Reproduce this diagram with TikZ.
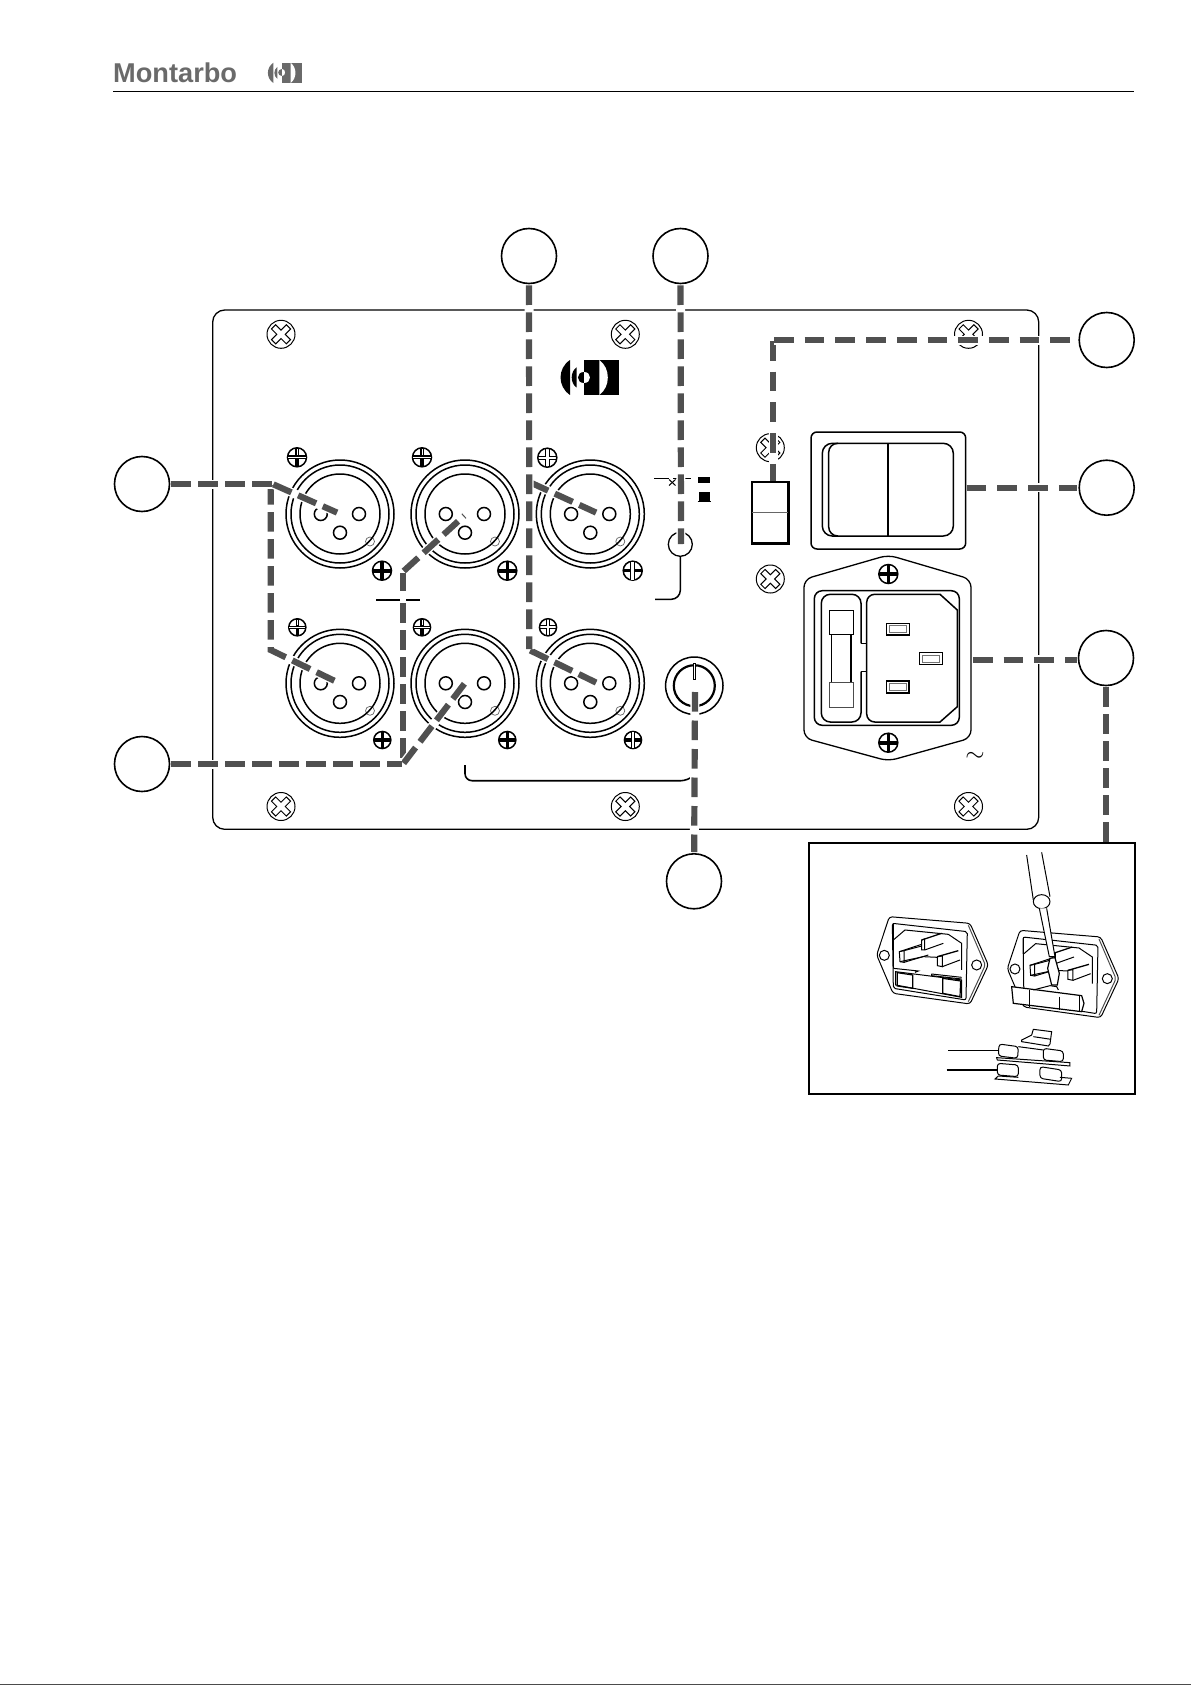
\documentclass[tikz,border=0pt]{standalone}
\usepackage{fontspec}
\setmainfont{Liberation Sans}
\usepackage{amsmath}
\usepackage{tikz}
\definecolor{leadgray}{HTML}{505050}
\definecolor{logogray}{HTML}{6A6A6A}
\begin{document}
\begin{tikzpicture}[
  x = 1pt, y = -1pt,
  ln/.style = {line width=1.5pt,draw=black},
  fine/.style = {line width=1pt,draw=black},
  callout/.style = {draw,circle,line width=1.6pt,inner sep=0pt,minimum size=55pt},
  leader/.style = {line width=6.2pt,draw=leadgray,dash pattern=on 19.7pt off 7.3pt,shorten <=1pt,shorten >=1pt,
    preaction={draw=white,solid,line width=9pt}},
  leader wide/.style = {leader,dash pattern=on 19.7pt off 11pt},
  pics/logoicon/.style = {code={
    \fill[#1] (70,0) rectangle (175,105);
    \fill[#1] (28,0) .. controls (-10,25) and (-10,80) .. (28,105) -- cycle;
    \fill[#1] (48,22) .. controls (28,35) and (28,70) .. (48,83) -- cycle;
    \fill[#1] (70,35) .. controls (46,35) and (46,70) .. (70,70) -- cycle;
    \fill[white] (70,35) .. controls (94,35) and (94,70) .. (70,70) -- cycle;
    \fill[white] (116,0) .. controls (150,25) and (150,80) .. (116,105) -- cycle;
  }},
  pics/xlr/.style = {code={
    \draw[ln] (0,0) circle (54);
    \draw[ln] (0,0) circle (49);
    \draw[line width=.7pt,draw=black!60,fill=white] (30,27.5) circle (4.5);
    \draw[ln] (0,0) circle (40);
    \draw[ln] (-19.2,0) circle (6.5);
    \draw[ln] (19,0) circle (6.5);
    \draw[ln] (0,18.7) circle (6.5);
  }},
  pics/xscrew/.style = {code={
    \draw[fine] (0,0) circle (14);
    \draw[fine,rotate=45] (-3,-10.5) -- (3,-10.5) -- (3,-3) -- (10.5,-3) -- (10.5,3) -- (3,3) -- (3,10.5) -- (-3,10.5) -- (-3,3) -- (-10.5,3) -- (-10.5,-3) -- (-3,-3) -- cycle;
  }},
  pics/solidscrew/.style = {code={
    \draw[ln] (0,0) circle (9.5);
    \fill (-9,-1.8) rectangle (9,1.8);
    \fill (-1.8,-9) rectangle (1.8,9);
  }},
  pics/hollowscrew/.style = {code={
    \draw[ln] (0,0) circle (9.5);
    \draw[fine] (-9,-1.7) -- (-1.7,-1.7) -- (-1.7,-9);
    \draw[fine] (9,-1.7) -- (1.7,-1.7) -- (1.7,-9);
    \draw[fine] (-9,1.7) -- (-1.7,1.7) -- (-1.7,9);
    \draw[fine] (9,1.7) -- (1.7,1.7) -- (1.7,9);
  }},
  pics/halfscrew/.style = {code={
    \draw[ln] (0,0) circle (9.5);
    \fill (-9,-2) rectangle (9,2);
    \fill (-1.8,0) rectangle (1.8,9);
    \fill (-1.8,-9) rectangle (1.8,-2);
    \fill[white] (-9,-.5) rectangle (9,.5);
    \fill[white] (-.5,-8) rectangle (.5,-2.4);
  }},
  pics/mixscrew/.style = {code={
    \draw[ln] (0,0) circle (9.5);
    \fill (-9,-1.7) rectangle (9,1.7);
    \fill[white] (-1.8,-9) rectangle (1.8,9);
    \draw[fine] (-1.8,-9) -- (-1.8,9);
    \draw[fine] (1.8,-9) -- (1.8,9);
  }},
  pics/socketpin/.style = {code={
    \draw[line width=1.5pt] (-11.3,-5.8) rectangle (11.3,5.8);
    \draw[line width=.7pt,draw=black!55] (-8.3,-3.4) rectangle (8.3,3.4);
  }},
  pics/inletview/.style = {code={
    \draw[fine,rounded corners=3] (268,230) -- (510,250) -- (565,375) -- (510,492) -- (279,460) -- (230,345) -- cycle;
    \draw[fine,draw=black!70,rounded corners=2] (505,256) -- (556,375) -- (505,485);
    \draw[fine,rounded corners=2] (277,250) -- (502,275) -- (498,480) -- (280,445) -- cycle;
    \draw[fine] (253,346) circle (15);
    \draw[fine] (530,375) circle (15);
    \draw[fine] (280,300) -- (315,270) -- (445,283) -- (485,310) -- (485,390);
    \draw[fine] (280,250) -- (280,385);
    \draw[fine] (298,335) -- (312,332) -- (312,367) -- (300,365) -- cycle;
    \draw[fine] (298,335) -- (365,313);
    \draw[fine] (312,332) -- (365,318);
    \draw[fine] (312,367) -- (385,345);
    \draw[fine] (300,365) -- (370,350) -- (412,352);
    \draw[fine] (365,300) -- (365,330) -- (374,330) -- (374,297) -- cycle;
    \draw[line width=1.3pt] (365,300) -- (425,280);
    \draw[fine] (374,330) -- (430,310);
    \draw[fine] (412,350) -- (427,348) -- (427,380) -- (412,377) -- cycle;
    \draw[line width=1.3pt] (412,350) -- (475,332);
    \draw[fine] (427,380) -- (480,360);
  }}
  ]
  \useasboundingbox (0,0) rectangle (1191,1685);
  \draw[line width=1pt,draw=black!70] (0,1684.5) -- (1191,1684.5);
  \node[anchor=base west,inner sep=0pt,text=logogray,font=\fontsize{27.2}{28}\selectfont\bfseries] (@brand) at (113,82.3) {Montarbo};
  \pic[scale=.194] at (268,62.7) {logoicon=logogray};
  \draw[line width=1.3pt] (113,91.7) -- (1134,91.7);

  \draw[ln,line width=1.3pt,rounded corners=12] (212.7,310) rectangle (1038.7,829.3);
  \pic[scale=.333] at (560.7,360) {logoicon=black};

  \pic at (281,334.3) {xscrew};
  \pic at (625.3,334.3) {xscrew};
  \pic at (968.5,334.3) {xscrew};
  \pic at (281,806.5) {xscrew};
  \pic at (625.3,806.5) {xscrew};
  \pic at (968.5,806.5) {xscrew};
  \pic at (770.3,447.7) {xscrew};
  \pic at (770.3,579) {xscrew};

  \pic at (340,514) {xlr};
  \pic at (465,514) {xlr};
  \pic at (590.3,514) {xlr};
  \pic at (340,683.3) {xlr};
  \pic at (465,683.3) {xlr};
  \pic at (590.3,683.3) {xlr};

  \pic at (297,457.3) {halfscrew};
  \pic at (422,457.3) {halfscrew};
  \pic at (547.3,457.7) {hollowscrew};
  \pic at (382,570.7) {solidscrew};
  \pic at (507.3,570.7) {solidscrew};
  \pic at (632.7,570.7) {mixscrew};
  \pic[scale=.9] at (297.3,627.3) {halfscrew};
  \pic[scale=.9] at (422,627.3) {halfscrew};
  \pic[scale=.9] at (548,627.3) {hollowscrew};
  \pic[scale=.9] at (382.3,740) {solidscrew};
  \pic[scale=.9] at (507.3,740) {solidscrew};
  \pic[scale=.9] at (633,740) {mixscrew};

  \draw[ln] (376,600) -- (400,600);
  \draw[ln] (406,600) -- (420,600);
  \draw[line width=1.6pt,rounded corners=7] (465,765) -- (465,780.7) -- (688,780.7) -- (693,776);

  \draw[fine] (654,478.7) -- (669,478.7);
  \draw[fine] (669,479.5) -- (675.5,485.5);
  \draw[fine] (675.5,479.5) -- (669,485.5);
  \draw[fine] (673,478.7) -- (691,478.7);
  \fill (697.7,477.3) rectangle (710,482.7);
  \fill (698.5,491.7) rectangle (709.5,501.7);
  \draw[fine] (697.5,501.7) -- (710.5,501.7);
  \node[draw,circle,line width=1.3pt,inner sep=0pt,minimum size=24pt] (@trim) at (680.3,544.3) {};
  \coordinate (@trimend) at (655,599.3);
  \draw[ln,rounded corners=9] (@trim.south) -- (680.3,599.3) -- (@trimend);

  \draw[ln] (694.3,685.7) circle (28.7);
  \draw[line width=2.2pt] (694.3,685.7) circle (20.5);
  \draw[fine,fill=white] (693.4,663.5) rectangle (695.4,679);

  \draw[line width=2.4pt] (751.7,481.7) rectangle (788.3,543.3);
  \draw[fine,draw=black!60] (751.7,512.3) -- (788.3,512.3);

  \draw[line width=1.5pt,rounded corners=6] (811,432) rectangle (965.7,549);
  \draw[ln,rounded corners=10] (822.3,443.3) rectangle (953.3,536);
  \draw[ln,rounded corners=9] (838,443.3) -- (828.7,443.3) -- (828.7,536) -- (838,536);
  \draw[ln] (888,443.3) -- (888,536);

  \draw[line width=1.3pt,rounded corners=8] (888.3,555) -- (971,579.3) -- (971,738) -- (888.3,761) -- (804,738) -- (804,579.3) -- cycle;
  \draw[ln,rounded corners=8] (814.3,590.7) rectangle (959.3,725.3);
  \draw[ln,rounded corners=9] (861,643.3) -- (861,594.3) -- (821.3,594.3) -- (821.3,722) -- (861,722) -- (861,671.7);
  \draw[ln] (861,643.3) -- (866.7,643.3);
  \draw[ln] (861,671.7) -- (866.7,671.7);
  \draw[ln] (940,594.3) [rounded corners=8] -- (866.7,594.3) -- (866.7,722) [sharp corners] -- (940,722) -- (957.3,706.7) -- (957.3,610) -- cycle;
  \draw[ln] (831.7,634.3) rectangle (851,682.7);
  \draw[ln] (829.3,610.3) rectangle (853.3,634.3);
  \draw[ln,draw=black!70] (829.3,682.7) rectangle (853.3,707.3);
  \pic at (898,629.2) {socketpin};
  \pic at (931,658.5) {socketpin};
  \pic at (897.7,687) {socketpin};
  \pic at (888.3,574) {solidscrew};
  \pic at (888.3,742.7) {solidscrew};
  \node[inner sep=0pt,font=\Huge] (@mains) at (975,757) {$\sim$};

  \draw[line width=2pt] (809,843.3) rectangle (1135,1094);
  \begin{scope}[shift={(800,840)},x=.3333pt,y=-.3333pt]
    \pic {inletview};
    \draw[fine] (280,385) -- (355,393) -- (345,397);
    \draw[fine] (395,402) -- (395,407) -- (485,417);
    \draw[fine] (395,402) -- (485,412);
    \draw[fine] (287,395) -- (485,420) -- (485,472) -- (287,435) -- cycle;
    \draw[line width=1.2pt] (292,398) -- (338,405) -- (338,445) -- (292,438) -- cycle;
    \draw[line width=1.2pt] (428,415) -- (482,423) -- (480,470) -- (428,460) -- cycle;
    \begin{scope}[shift={(392,41)}]
      \pic {inletview};
    \end{scope}
    \draw[line width=1.2pt,fill=white] (635,440) -- (845,467) -- (852,490) -- (845,515) -- (640,490) -- cycle;
    \draw[fine] (690,450) -- (690,500);
    \draw[fine] (780,470) -- (780,510);
    \draw[fine] (840,467) -- (840,515);
    \draw[fine] (700,450) -- (750,437) -- (770,440) -- (775,450);
    \draw[fine] (680,45) -- (700,180);
    \draw[fine] (725,37) -- (750,170);
    \draw[fine,fill=white] (725,185) ellipse (25 and 21);
    \draw[fine,fill=white] (718,205) -- (748,350) -- (765,350) -- (740,205);
    \draw[line width=1.2pt,fill=white] (750,355) -- (765,353) -- (778,400) -- (772,435) -- (755,435) -- (743,385) -- cycle;

    \draw[fine,fill=white] (665,600) -- (695,585) -- (700,568) -- (755,575) -- (750,612) -- (745,618) -- (665,605) -- cycle;
    \draw[fine] (700,590) -- (753,598);
    \draw[fine,fill=white,rounded corners=3] (597,612) -- (655,620) -- (653,655) -- (595,648) -- cycle;
    \draw[fine] (655,620) -- (730,630);
    \draw[fine,fill=white,rounded corners=3] (730,625) -- (790,633) -- (790,665) -- (730,660) -- cycle;
    \draw[fine,fill=white] (590,653) -- (810,668) -- (810,678) -- (592,660) -- cycle;
    \draw[fine,fill=white,rounded corners=3] (592,670) -- (655,675) -- (655,710) -- (592,705) -- cycle;
    \draw[fine,fill=white,rounded corners=3] (720,680) -- (785,690) -- (785,725) -- (720,715) -- cycle;
    \draw[fine] (595,708) -- (585,717) -- (805,735) -- (815,715) -- (780,712);
    \draw[fine] (595,708) -- (655,712);
    \coordinate (@capA) at (595,631);
    \coordinate (@capB) at (590,690);
    \coordinate (@capAend) at (445,631);
    \coordinate (@capBend) at (440,690);
    \draw[ln] (@capAend) -- (@capA);
    \draw[ln] (@capBend) -- (@capB);
  \end{scope}

  \node[callout] (@1) at (142,484) {};
  \node[callout] (@2) at (142,764) {};
  \node[callout] (@3) at (529,256) {};
  \node[callout] (@4) at (680.5,256) {};
  \node[callout] (@5) at (1106.7,340) {};
  \node[callout] (@6) at (1106.7,487.7) {};
  \node[callout] (@7) at (1106,658) {};
  \node[callout] (@8) at (694,881.3) {};

  \coordinate (@k1) at (272.5,484);
  \coordinate (@k1v) at (270.7,484);
  \coordinate (@k1b) at (270.7,650);
  \coordinate (@k2) at (403,764);
  \coordinate (@k2b) at (403,571.7);
  \coordinate (@k2c) at (403,592);
  \coordinate (@k2d) at (403,602);
  \coordinate (@k3) at (529.3,482);
  \coordinate (@k3b) at (529.3,650);
  \coordinate (@k5) at (773,340);
  \coordinate (@pinA) at (338,513);
  \coordinate (@pinD) at (338,682.5);
  \coordinate (@pinB) at (465,515);
  \coordinate (@pinE) at (465,683);
  \coordinate (@pinC) at (597,513);
  \coordinate (@pinF) at (597,683);
  \coordinate (@sw) at (773,481.7);
  \coordinate (@rock) at (965.7,487.7);
  \coordinate (@inlet) at (972,659.7);
  \coordinate (@box) at (1106,843);
  \coordinate (@knob) at (695,691);
  \coordinate (@top4) at (681,545);

  \draw[leader] (@k1v) -- (@k1b) -- (@pinD);
  \draw[leader] (@k1) -- (@pinA);
  \draw[leader] (@1) -- (@k1);
  \draw[leader] (@k2b) -- (@k2c);
  \draw[leader] (@k2d) -- (@k2);
  \draw[leader] (@k2b) -- (@pinB);
  \draw[leader] (@k2) -- (@pinE);
  \draw[leader] (@2) -- (@k2);
  \draw[leader] (@k3) -- (@pinC);
  \draw[leader] (@k3b) -- (@pinF);
  \draw[leader] (@3) -- (@k3b);
  \draw[leader] (@4) -- (@top4);
  \draw[leader wide] (@k5) -- (@sw);
  \draw[leader wide] (@k5) -- (@5);
  \draw[leader wide] (@rock) -- (@6);
  \draw[leader wide] (@inlet) -- (@7.west |- @inlet);
  \draw[leader] (@7.south -| @box) -- (@box);
  \draw[leader,dash pattern=on 19.7pt off 8.8pt] (@knob) -- (@8);
\end{tikzpicture}
\end{document}
